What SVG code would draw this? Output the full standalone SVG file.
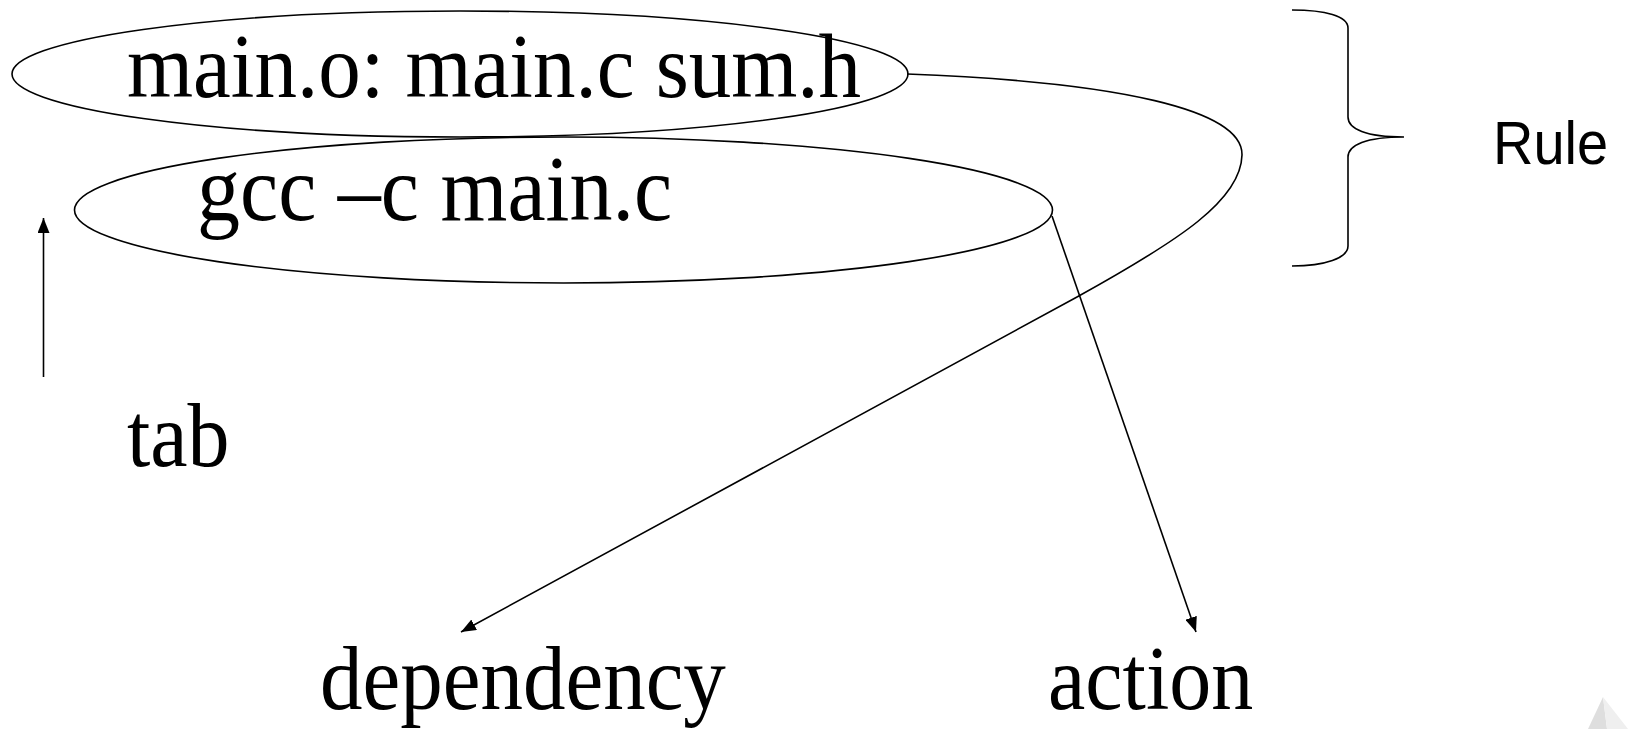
<svg xmlns="http://www.w3.org/2000/svg" width="1631" height="729" viewBox="0 0 1631 729">
  <style>
    .shape { fill: none; stroke: #000; stroke-width: 1.6; }
    .line { fill: none; stroke: #000; stroke-width: 1.6; }
    .serif { font-family: "Liberation Serif", "Times New Roman", serif; font-size: 85px; fill: #000; }
    .sans { font-family: "Liberation Sans", Arial, sans-serif; font-size: 56px; fill: #000; }
  </style>
  <defs>
    <marker id="arrow" markerWidth="16" markerHeight="12" refX="15" refY="6" orient="auto" markerUnits="userSpaceOnUse">
      <path d="M0,0 L15,6 L0,12 Z" fill="#000"/>
    </marker>
  </defs>
  <rect width="1631" height="729" fill="#fff"/>

  <g id="watermark">
    <polygon points="1603,697 1588,729 1607,729" fill="#dedede"/>
    <polygon points="1603,697 1607,729 1628,729" fill="#efefef"/>
  </g>

  <g id="node-target">
    <ellipse class="shape" cx="460" cy="74" rx="448" ry="63"/>
    <text class="serif" transform="translate(127,97) scale(1,1.08)">main.o: main.c sum.h</text>
  </g>

  <g id="node-command">
    <ellipse class="shape" cx="563.5" cy="210" rx="489" ry="73"/>
    <text class="serif" transform="translate(197,220) scale(1,1.08)" style="font-size:86px">gcc –c main.c</text>
  </g>

  <g id="node-rule">
    <path class="shape" d="M1292,10 C1325,10 1348,16 1348,28 L1348,117 C1348,129 1366,137 1404,137 C1366,137 1348,145 1348,157 L1348,246 C1348,258 1325,266 1292,266"/>
    <text class="sans" transform="translate(1493,164) scale(1,1.08)">Rule</text>
  </g>

  <g id="node-tab">
    <text class="serif" transform="translate(127,466) scale(1,1.08)" style="font-size:84px">tab</text>
  </g>

  <g id="node-dependency">
    <text class="serif" transform="translate(320,709) scale(1,1.08)">dependency</text>
  </g>

  <g id="node-action">
    <text class="serif" transform="translate(1048,709) scale(1,1.08)" style="font-size:84px">action</text>
  </g>

  <g id="connectors">
    <path class="line" d="M907,74 C1120,82 1243,110 1242,155 C1241,200 1180,240 1077,297 L461,632" marker-end="url(#arrow)"/>
    <line class="line" x1="1052" y1="216" x2="1196" y2="632" marker-end="url(#arrow)"/>
    <line class="line" x1="43.5" y1="377" x2="43.5" y2="218" marker-end="url(#arrow)"/>
  </g>
</svg>
